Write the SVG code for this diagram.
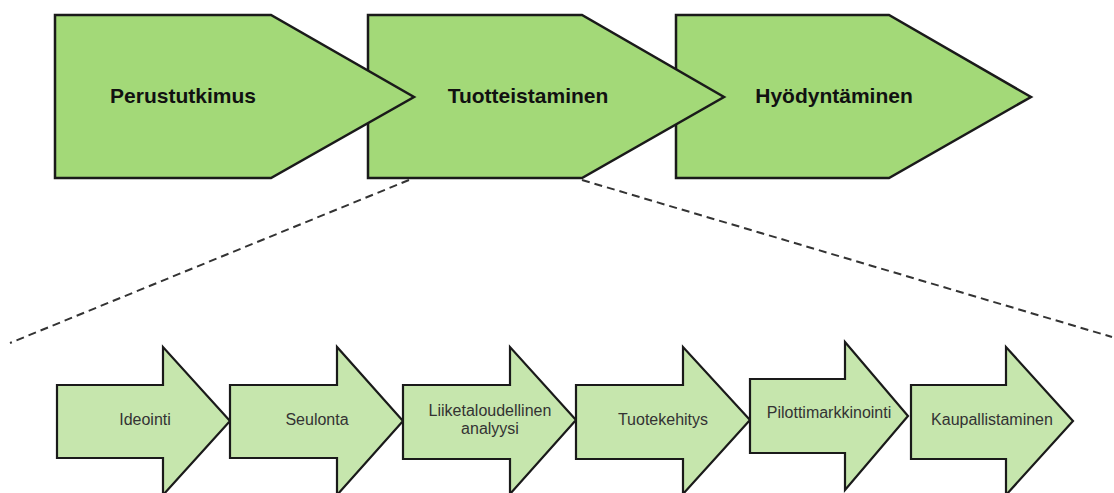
<svg xmlns="http://www.w3.org/2000/svg" width="1114" height="493" viewBox="0 0 1114 493">
<style>
.top{fill:#a3d978;stroke:#1a1a1a;stroke-width:2.5;stroke-linejoin:miter}
.sub{fill:#c6e6ad;stroke:#1a1a1a;stroke-width:2.2;stroke-linejoin:miter}
.tt{font-family:"Liberation Sans",Arial,sans-serif;font-weight:bold;font-size:21px;fill:#111;text-anchor:middle}
.st{font-family:"Liberation Sans",Arial,sans-serif;font-size:16px;fill:#333;text-anchor:middle}
.dash{fill:none;stroke:#333;stroke-width:2;stroke-dasharray:8 5}
</style>
<rect width="1114" height="493" fill="#fff"/>
<g id="connectors">
<line class="dash" x1="409" y1="180" x2="10" y2="343"/>
<line class="dash" x1="582" y1="180" x2="1112" y2="337"/>
</g>
<g id="hyodyntaminen">
<polygon class="top" points="676,15 889,15 1031,97 889,178 676,178"/>
<text class="tt" x="834" y="103">Hyödyntäminen</text>
</g>
<g id="tuotteistaminen">
<polygon class="top" points="368,15 582,15 724,97 582,178 368,178"/>
<text class="tt" x="528" y="103">Tuotteistaminen</text>
</g>
<g id="perustutkimus">
<polygon class="top" points="55,15 271,15 414,97 271,178 55,178"/>
<text class="tt" x="183" y="103">Perustutkimus</text>
</g>
<g id="ideointi">
<polygon class="sub" points="57,385 163,385 163,347 230,421 163,495 163,458 57,458"/>
<text class="st" x="145" y="425">Ideointi</text>
</g>
<g id="seulonta">
<polygon class="sub" points="230,385 337,385 337,347 403,421 337,495 337,458 230,458"/>
<text class="st" x="317" y="425">Seulonta</text>
</g>
<g id="liiketaloudellinen">
<polygon class="sub" points="403,385 510,385 510,347 576,420 510,494 510,459 403,459"/>
<text class="st" x="490" y="416">Liiketaloudellinen</text>
<text class="st" x="490" y="434">analyysi</text>
</g>
<g id="tuotekehitys">
<polygon class="sub" points="576,385 683,385 683,347 750,420 683,494 683,459 576,459"/>
<text class="st" x="663" y="425">Tuotekehitys</text>
</g>
<g id="pilottimarkkinointi">
<polygon class="sub" points="750,379 845,379 845,342 908,416 845,490 845,453 750,453"/>
<text class="st" x="829" y="418">Pilottimarkkinointi</text>
</g>
<g id="kaupallistaminen">
<polygon class="sub" points="911,385 1006,385 1006,347 1073,421 1006,495 1006,459 911,459"/>
<text class="st" x="992" y="425">Kaupallistaminen</text>
</g>
</svg>
